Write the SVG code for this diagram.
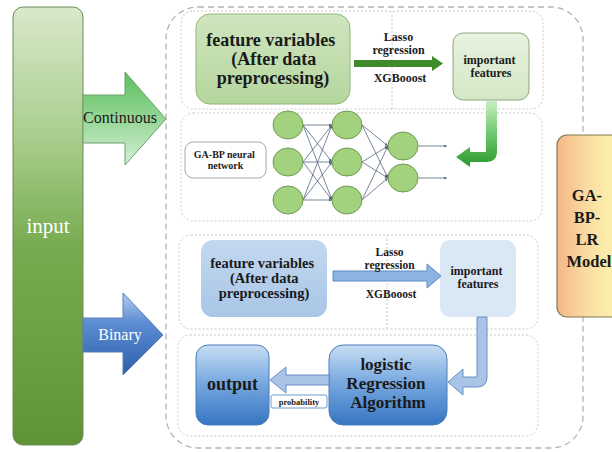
<svg xmlns="http://www.w3.org/2000/svg" width="612" height="452" viewBox="0 0 612 452">
  <defs>
    <linearGradient id="gInput" x1="0" y1="0" x2="0" y2="1">
      <stop offset="0" stop-color="#d8e9cb"/>
      <stop offset="0.3" stop-color="#a9cd8c"/>
      <stop offset="0.55" stop-color="#77ab4f"/>
      <stop offset="1" stop-color="#5e9436"/>
    </linearGradient>
    <linearGradient id="gCont" x1="0" y1="0" x2="0" y2="1">
      <stop offset="0" stop-color="#5cbf5c"/>
      <stop offset="0.45" stop-color="#8fd48f"/>
      <stop offset="1" stop-color="#d6f0d6"/>
    </linearGradient>
    <linearGradient id="gBin" x1="0" y1="0" x2="0" y2="1">
      <stop offset="0" stop-color="#b8cff0"/>
      <stop offset="0.35" stop-color="#5d8dd3"/>
      <stop offset="1" stop-color="#2c5ea9"/>
    </linearGradient>
    <linearGradient id="gFeatG" x1="0" y1="0" x2="0" y2="1">
      <stop offset="0" stop-color="#cfe5bf"/>
      <stop offset="1" stop-color="#b5d69d"/>
    </linearGradient>
    <linearGradient id="gImpG" x1="0" y1="0" x2="0" y2="1">
      <stop offset="0" stop-color="#e8f2e0"/>
      <stop offset="1" stop-color="#d3e7c6"/>
    </linearGradient>
    <linearGradient id="gBend" gradientUnits="userSpaceOnUse" x1="0" y1="101" x2="0" y2="168">
      <stop offset="0" stop-color="#c9eec2"/>
      <stop offset="0.5" stop-color="#6cc76c"/>
      <stop offset="1" stop-color="#2a962a"/>
    </linearGradient>
    <linearGradient id="gFeatB" x1="0" y1="0" x2="0" y2="1">
      <stop offset="0" stop-color="#c2d8ef"/>
      <stop offset="1" stop-color="#a9c6e6"/>
    </linearGradient>
    <linearGradient id="gDeep" x1="0" y1="0" x2="0" y2="1">
      <stop offset="0" stop-color="#c9def4"/>
      <stop offset="0.45" stop-color="#7aaae0"/>
      <stop offset="1" stop-color="#3675c2"/>
    </linearGradient>
    <linearGradient id="gModel" gradientUnits="userSpaceOnUse" x1="557" y1="0" x2="606" y2="0">
      <stop offset="0" stop-color="#f5b688"/>
      <stop offset="0.55" stop-color="#f9d9a0"/>
      <stop offset="1" stop-color="#fbecaa"/>
    </linearGradient>
    <marker id="tip" markerWidth="4" markerHeight="4" refX="3.5" refY="2" orient="auto" markerUnits="userSpaceOnUse">
      <path d="M0,0.5 L3.5,2 L0,3.5 Z" fill="#4e5f78"/>
    </marker>
    <style>
      .serif { font-family: "Liberation Serif", "Times New Roman", serif; }
      .b { font-weight: bold; fill: #1a1a1a; text-anchor: middle; }
      .outer { fill: none; stroke: #b4b4b4; stroke-width: 1.3; stroke-dasharray: 6 4; }
      .panel { fill: none; stroke: #c9c9c9; stroke-width: 1; stroke-dasharray: 2 2; }
      .neuron { fill: #a3d27f; stroke: #6f9a52; stroke-width: 1; }
      .syn { stroke: #56677f; stroke-width: 0.8; fill: none; marker-end: url(#tip); }
      .blueArrow { fill: #a9c4e6; stroke: #6690c4; stroke-width: 1; }
    </style>
  </defs>

  <!-- dashed frames -->
  <g id="frames">
    <rect class="outer" x="166" y="7" width="417" height="441" rx="32"/>
    <rect class="panel" x="181" y="11" width="362" height="98" rx="12"/>
    <line class="panel" x1="392" y1="11" x2="392" y2="109"/>
    <rect class="panel" x="181" y="113" width="361" height="108" rx="12"/>
    <rect class="panel" x="179" y="235" width="359" height="94" rx="12"/>
    <line class="panel" x1="387" y1="235" x2="387" y2="329"/>
    <rect class="panel" x="178" y="335" width="360" height="101" rx="12"/>
  </g>

  <!-- input column -->
  <g id="input">
    <rect x="13" y="7" width="70" height="438" rx="10" fill="url(#gInput)" stroke="#6f8a5a" stroke-width="1"/>
    <text class="serif" x="48" y="233" font-size="21" fill="#ffffff" text-anchor="middle">input</text>
  </g>

  <!-- GA-BP-LR model block -->
  <g id="model">
    <rect x="557" y="135" width="70" height="182" rx="10" fill="url(#gModel)" stroke="#7d7a52" stroke-width="1.2"/>
    <text class="serif b" font-size="16.5">
      <tspan x="589" y="201">GA-</tspan>
      <tspan x="589" y="223">BP-</tspan>
      <tspan x="589" y="245">LR</tspan>
      <tspan x="589" y="267">Model</tspan>
    </text>
  </g>

  <!-- continuous branch -->
  <g id="feat-cont">
    <rect x="196" y="14" width="154" height="90" rx="14" fill="url(#gFeatG)" stroke="#93b67a" stroke-width="1"/>
    <text class="serif b" font-size="18">
      <tspan x="273" y="46">feature variables</tspan>
      <tspan x="276" y="65">(After data</tspan>
      <tspan x="273" y="84">preprocessing)</tspan>
    </text>
  </g>

  <g id="imp-cont">
    <rect x="453" y="33" width="76" height="67" rx="10" fill="url(#gImpG)" stroke="#8fa67f" stroke-width="1"/>
    <text class="serif b" font-size="12">
      <tspan x="491" y="64">important</tspan>
      <tspan x="491" y="77">features</tspan>
    </text>
  </g>

  <g id="nn-label">
    <rect x="185" y="142" width="81" height="36" rx="8" fill="#ffffff" stroke="#a8a8a8" stroke-width="1"/>
    <text class="serif b" font-size="10">
      <tspan x="225.5" y="158">GA-BP neural</tspan>
      <tspan x="225.5" y="169">network</tspan>
    </text>
  </g>

  <g id="nn">
    <!-- layer 1 to layer 2 -->
    <line class="syn" x1="303" y1="125" x2="332" y2="125"/>
    <line class="syn" x1="303" y1="125" x2="332" y2="162"/>
    <line class="syn" x1="303" y1="125" x2="332" y2="200"/>
    <line class="syn" x1="303" y1="162" x2="332" y2="125"/>
    <line class="syn" x1="303" y1="162" x2="332" y2="162"/>
    <line class="syn" x1="303" y1="162" x2="332" y2="200"/>
    <line class="syn" x1="303" y1="200" x2="332" y2="125"/>
    <line class="syn" x1="303" y1="200" x2="332" y2="162"/>
    <line class="syn" x1="303" y1="200" x2="332" y2="200"/>
    <!-- layer 2 to layer 3 -->
    <line class="syn" x1="362" y1="125" x2="388" y2="146"/>
    <line class="syn" x1="362" y1="125" x2="388" y2="178"/>
    <line class="syn" x1="362" y1="162" x2="388" y2="146"/>
    <line class="syn" x1="362" y1="162" x2="388" y2="178"/>
    <line class="syn" x1="362" y1="200" x2="388" y2="146"/>
    <line class="syn" x1="362" y1="200" x2="388" y2="178"/>
    <!-- outputs -->
    <line class="syn" x1="418" y1="146" x2="447" y2="146"/>
    <line class="syn" x1="418" y1="178" x2="447" y2="178"/>
    <ellipse class="neuron" cx="288" cy="125" rx="15" ry="14"/>
    <ellipse class="neuron" cx="288" cy="162" rx="15" ry="14"/>
    <ellipse class="neuron" cx="288" cy="200" rx="15" ry="14"/>
    <ellipse class="neuron" cx="347" cy="125" rx="15" ry="14"/>
    <ellipse class="neuron" cx="347" cy="162" rx="15" ry="14"/>
    <ellipse class="neuron" cx="347" cy="200" rx="15" ry="14"/>
    <ellipse class="neuron" cx="403" cy="146" rx="15" ry="14"/>
    <ellipse class="neuron" cx="403" cy="178" rx="15" ry="14"/>
  </g>

  <!-- binary branch -->
  <g id="feat-bin">
    <rect x="201" y="240" width="126" height="77" rx="12" fill="url(#gFeatB)"/>
    <text class="serif b" font-size="14.5">
      <tspan x="264" y="268">feature variables</tspan>
      <tspan x="266" y="283">(After data</tspan>
      <tspan x="264" y="298">preprocessing)</tspan>
    </text>
  </g>

  <g id="imp-bin">
    <rect x="440" y="240" width="76" height="77" rx="10" fill="#dae7f5"/>
    <text class="serif b" font-size="12">
      <tspan x="478" y="275">important</tspan>
      <tspan x="478" y="288">features</tspan>
    </text>
  </g>

  <g id="lr">
    <rect x="329" y="345" width="118" height="80" rx="14" fill="url(#gDeep)" stroke="#4a7cb8" stroke-width="1"/>
    <text class="serif b" font-size="17">
      <tspan x="388" y="370">logistic</tspan>
      <tspan x="388" y="389">Regression</tspan>
      <tspan x="388" y="408">Algorithm</tspan>
    </text>
  </g>

  <g id="output">
    <rect x="196" y="345" width="73" height="80" rx="12" fill="url(#gDeep)" stroke="#4a7cb8" stroke-width="1"/>
    <text class="serif b" font-size="18" x="232.5" y="390">output</text>
  </g>

  <!-- connectors -->
  <g id="connectors">
    <!-- Continuous -->
    <path d="M83,95 L125,95 L125,72 L166,119 L125,165 L125,143 L83,143 Z" fill="url(#gCont)" stroke="#6d9e6d" stroke-width="1"/>
    <text class="serif" x="120" y="123" font-size="16" fill="#1a1a1a" text-anchor="middle">Continuous</text>
    <!-- Binary -->
    <path d="M83,318 L123,318 L123,293 L163,335 L123,375 L123,352 L83,352 Z" fill="url(#gBin)" stroke="#5a7fb5" stroke-width="1"/>
    <text class="serif" x="120" y="340" font-size="16" fill="#ffffff" text-anchor="middle">Binary</text>

    <!-- feature selection, continuous -->
    <path d="M354,60 L432,60 L432,56 L443,63.5 L432,71 L432,67 L354,67 Z" fill="#3f8a2a"/>
    <text class="serif b" font-size="12">
      <tspan x="400" y="41">Lasso</tspan>
      <tspan x="400" y="54">regression</tspan>
      <tspan x="400" y="82">XGBooost</tspan>
    </text>
    <!-- important features into network -->
    <path d="M486,101 L497,101 L497,151 Q497,162 486,162 L470,162 L470,167 L456,157 L470,147 L470,152 L486,152 Z" fill="url(#gBend)"/>

    <!-- feature selection, binary -->
    <path d="M333,271 L427,271 L427,264 L441,276 L427,288 L427,281 L333,281 Z" fill="#8db3e2" stroke="#5f8cc4" stroke-width="1"/>
    <text class="serif b" font-size="11.5">
      <tspan x="391" y="256">Lasso</tspan>
      <tspan x="391" y="269">regression</tspan>
      <tspan x="391" y="298">XGBooost</tspan>
    </text>
    <!-- important features into logistic regression -->
    <path class="blueArrow" d="M477,317 L487,317 L487,377 Q487,387 477,387 L463,387 L463,395 L448,382 L463,369 L463,377 L477,377 Z"/>
    <!-- logistic regression to output -->
    <path class="blueArrow" d="M329,375 L286,375 L286,367 L270,380 L286,393 L286,385 L329,385 Z"/>
    <rect x="271" y="395" width="56" height="13" rx="2" fill="#ffffff" stroke="#6d9bd2" stroke-width="1"/>
    <text class="serif b" font-size="8.5" x="299" y="404.5">probability</text>
  </g>
</svg>
